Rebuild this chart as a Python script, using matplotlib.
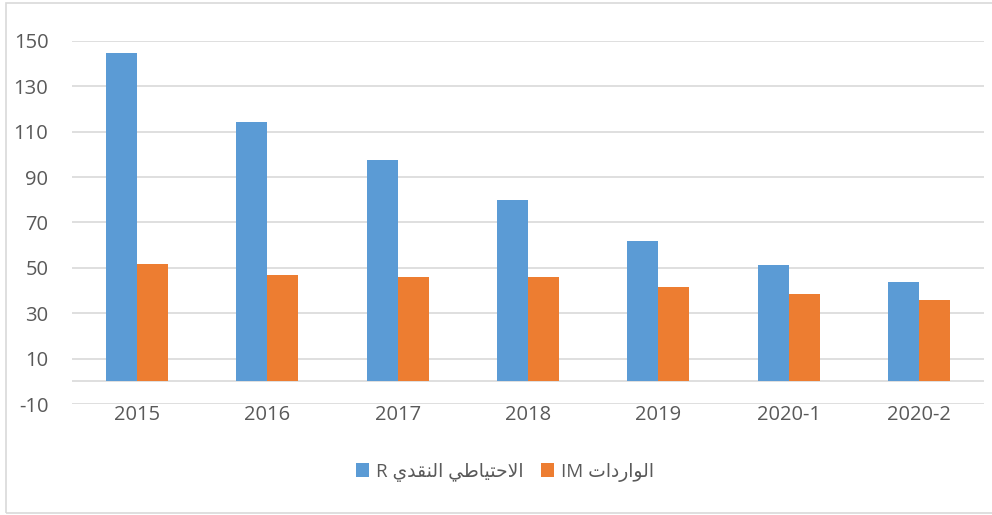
import numpy as np
import matplotlib.pyplot as plt
from matplotlib.patches import Rectangle

categories = ["2015", "2016", "2017", "2018", "2019", "2020-1", "2020-2"]
reserves_R = [144.7, 114.3, 97.5, 79.9, 61.8, 51.2, 43.7]
imports_IM = [51.6, 46.8, 45.9, 45.9, 41.5, 38.4, 35.7]
y_ticks = [-10, 10, 30, 50, 70, 90, 110, 130, 150]

label_R = "الاحتياطي النقدي"
label_IM = "الواردات"

# isolated, final, initial, medial presentation forms (matplotlib has no Arabic shaping)
FORMS = {
    "ا": ("\uFE8D", "\uFE8E", None, None),
    "د": ("\uFEA9", "\uFEAA", None, None),
    "ر": ("\uFEAD", "\uFEAE", None, None),
    "و": ("\uFEED", "\uFEEE", None, None),
    "ل": ("\uFEDD", "\uFEDE", "\uFEDF", "\uFEE0"),
    "ح": ("\uFEA1", "\uFEA2", "\uFEA3", "\uFEA4"),
    "ت": ("\uFE95", "\uFE96", "\uFE97", "\uFE98"),
    "ي": ("\uFEF1", "\uFEF2", "\uFEF3", "\uFEF4"),
    "ط": ("\uFEC1", "\uFEC2", "\uFEC3", "\uFEC4"),
    "ن": ("\uFEE5", "\uFEE6", "\uFEE7", "\uFEE8"),
    "ق": ("\uFED5", "\uFED6", "\uFED7", "\uFED8"),
}


def dual(c):
    return c in FORMS and FORMS[c][2] is not None


def shape(text):
    out = []
    i = 0
    n = len(text)
    while i < n:
        c = text[i]
        if c not in FORMS:
            out.append(c)
            i += 1
            continue
        joins_prev = i > 0 and dual(text[i - 1])
        if c == "ل" and i + 1 < n and text[i + 1] == "ا":
            out.append("\uFEFC" if joins_prev else "\uFEFB")
            i += 2
            continue
        joins_next = dual(c) and i + 1 < n and text[i + 1] in FORMS
        iso, fin, ini, med = FORMS[c]
        if joins_prev and joins_next:
            out.append(med)
        elif joins_prev:
            out.append(fin)
        elif joins_next:
            out.append(ini)
        else:
            out.append(iso)
        i += 1
    # visual order, right to left
    return "".join(reversed(out))


plt.rcParams["font.family"] = ["Open Sans", "DejaVu Sans"]
plt.rcParams["axes.unicode_minus"] = False

fig = plt.figure(figsize=(9.92, 5.15), dpi=100)
ax = fig.add_axes([72 / 992, 1 - 404 / 515, 912 / 992, 363 / 515])

x = np.arange(len(categories))
w = 0.238
ax.bar(x - w / 2, reserves_R, w, color="#5B9BD5", label="R " + shape(label_R), zorder=3)
ax.bar(x + w / 2, imports_IM, w, color="#ED7D31", label="IM " + shape(label_IM), zorder=3)

ax.set_xlim(-0.5, len(categories) - 0.5)
ax.set_ylim(-10, 150)
ax.set_yticks(y_ticks)
ax.yaxis.grid(True, color="#D9D9D9", linewidth=1.2, zorder=0)
ax.axhline(0, color="#D9D9D9", linewidth=1.2, zorder=2)
ax.set_xticks(x)
ax.set_xticklabels(categories)
ax.tick_params(axis="both", length=0, labelsize=14.5, labelcolor="#595959")
ax.tick_params(axis="y", pad=17)
ax.tick_params(axis="x", pad=1)
for s in ax.spines.values():
    s.set_visible(False)

leg = fig.legend(loc="center", bbox_to_anchor=(505 / 992, 1 - 472 / 515), ncol=2,
                 frameon=False, fontsize=13.5, handlelength=0.7, handleheight=0.7,
                 handletextpad=0.4, columnspacing=0.9)
for t in leg.get_texts():
    t.set_color("#595959")

fig.patches.append(Rectangle((6 / 992, 2 / 515), 990 / 992, 510 / 515,
                             transform=fig.transFigure, fill=False,
                             edgecolor="#D9D9D9", linewidth=1.2))

fig.savefig("out.png", dpi=100)
